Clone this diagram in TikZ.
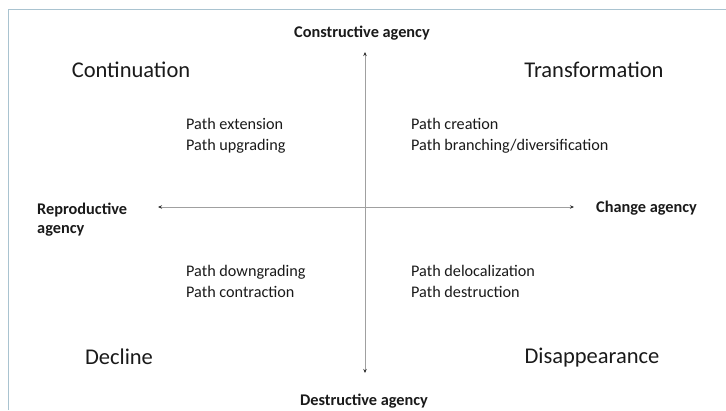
\documentclass[tikz,border=0pt]{standalone}
\usepackage{fontspec}
\setmainfont{Carlito}
\usetikzlibrary{arrows.meta}
\definecolor{framec}{HTML}{A9C3D0}
\definecolor{axisc}{HTML}{A0A0A0}
\definecolor{txt}{HTML}{1A1A1A}
\begin{document}
\begin{tikzpicture}[x=1pt,y=-1pt,
  quad/.style={font=\fontsize{22.5}{27}\selectfont, text=txt, inner sep=0pt},
  item/.style={font=\fontsize{16.2}{20.5}\selectfont, text=txt, inner sep=0pt, anchor=north west, align=left},
  axlab/.style={font=\fontsize{16.3}{19}\selectfont\bfseries, text=txt, inner sep=0pt},
  axis/.style={draw=axisc, line width=1pt, -{Stealth[length=4pt,width=3.5pt,color=black!80]}}]
\useasboundingbox (0,0) rectangle (726,410);
\fill[white] (0,0) rectangle (726,410);
\draw[framec, line width=1pt] (8.5,410) -- (8.5,9.5) -- (726,9.5);
% axis endpoints
\coordinate (c) at (365,207);
\coordinate (top) at (365,52);
\coordinate (bot) at (365,373);
\coordinate (lft) at (158,207);
\coordinate (rgt) at (574,207);
\draw[axis] (c) -- (top);
\draw[axis] (c) -- (bot);
\draw[axis] (c) -- (lft);
\draw[axis] (c) -- (rgt);
% axis labels
\node[axlab] (cons) at (362,33) {Constructive agency};
\node[axlab] (dest) at (364,401) {Destructive agency};
\node[axlab, anchor=west] (chg) at (596,208) {Change agency};
\node[axlab, anchor=west, align=left] (rep) at (37,219.5) {Reproductive\\agency};
% quadrant names
\node[quad] (cont) at (131,70) {Continuation};
\node[quad] (trans) at (594,70) {Transformation};
\node[quad] (decl) at (119,357) {Decline};
\node[quad] (disap) at (592,358) {Disappearance};
% items
\node[item] (tl) at (186,118.5) {Path extension\\Path upgrading};
\node[item] (tr) at (411,118.5) {Path creation\\Path branching/diversification};
\node[item] (bl) at (186,265.5) {Path downgrading\\Path contraction};
\node[item] (br) at (411,265.5) {Path delocalization\\Path destruction};
\end{tikzpicture}
\end{document}
